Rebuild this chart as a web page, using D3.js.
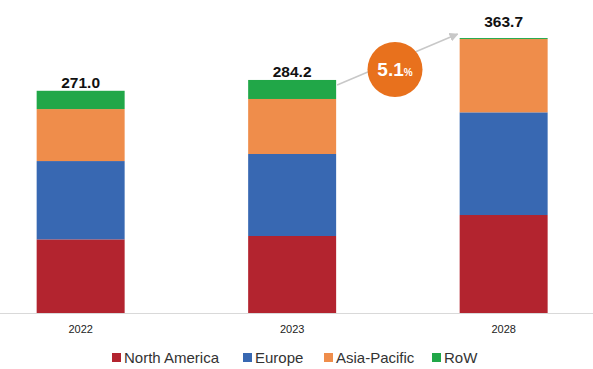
<!DOCTYPE html>
<html><head><meta charset="utf-8">
<script src="https://cdn.jsdelivr.net/npm/d3@7"></script>
<style>body{margin:0;background:#fff}svg{display:block}text{font-family:"Liberation Sans",Arial,sans-serif}</style>
</head><body><svg id="c" width="593" height="369"></svg>
<script>
const years = ["2022","2023","2028"];
const regions = ["North America","Europe","Asia-Pacific","RoW"];
const northAmerica = [89.8, 93.9, 119.5];
const europe = [95.5, 100.0, 125.2];
const asiaPacific = [63.4, 67.1, 89.4];
const row = [22.3, 23.2, 1.2];
const totalLabels = ["271.0","284.2","363.7"];
const cagrLabel = "5.1";
const colors = ["#B3242F","#3868B2","#EF8D4B","#21A748"];

const svg = d3.select("#c");
const data = years.map((y,i)=>({year:y,"North America":northAmerica[i],"Europe":europe[i],"Asia-Pacific":asiaPacific[i],"RoW":row[i]}));
const stack = d3.stack().keys(regions)(data);

const x = d3.scaleBand().domain(years).range([-25.1,609.4]).paddingInner(0.584).paddingOuter(0.292);
const y = d3.scaleLinear().domain([0,350]).range([313,26]);
const color = d3.scaleOrdinal().domain(regions).range(colors);

// axis line
svg.append("line").attr("x1",0).attr("x2",593).attr("y1",313.5).attr("y2",313.5).attr("stroke","#d9d9d9").attr("stroke-width",1);

svg.selectAll("g.layer").data(stack).join("g").attr("class","layer").attr("fill",d=>color(d.key))
  .selectAll("rect").data(d=>d).join("rect")
  .attr("x",d=>x(d.data.year)).attr("width",x.bandwidth())
  .attr("y",d=>y(d[1])).attr("height",d=>y(d[0])-y(d[1]));

// tick labels
const ax = svg.append("g").attr("transform","translate(0,313)")
  .call(d3.axisBottom(x).tickSize(0).tickPadding(12));
ax.select(".domain").remove();
ax.selectAll("text").attr("font-size","11px").attr("fill","#222").attr("font-family","Liberation Sans, Arial, sans-serif");

// totals
const tops = stack[stack.length-1];
svg.selectAll("text.tot").data(tops).join("text").attr("class","tot")
  .attr("x",d=>x(d.data.year)+x.bandwidth()/2)
  .attr("y",(d,i)=>y(d[1])-(i===2?11:3))
  .attr("text-anchor","middle").attr("font-size","15.5px").attr("font-weight","bold").attr("fill","#111")
  .text((d,i)=>totalLabels[i]);

// arrow
const defs = svg.append("defs");
defs.append("marker").attr("id","ah").attr("viewBox","0 0 10 10").attr("refX",9).attr("refY",5)
  .attr("markerWidth",6).attr("markerHeight",6).attr("orient","auto")
  .append("path").attr("d","M0,0L10,5L0,10z").attr("fill","#c8c8c8");
const x1 = x("2023")+x.bandwidth()+1, y1 = y(tops[1][1])+5;
const x2 = x("2028")-2, y2 = y(tops[2][1])-4;
svg.append("line").attr("x1",x1).attr("y1",y1).attr("x2",x2).attr("y2",y2)
  .attr("stroke","#c8c8c8").attr("stroke-width",1.5).attr("marker-end","url(#ah)");

// CAGR circle
const cx = 395, cy = 69.5;
svg.append("circle").attr("cx",cx).attr("cy",cy).attr("r",27.5).attr("fill","#E8711D");
const t = svg.append("text").attr("x",cx).attr("y",cy+6.5).attr("text-anchor","middle").attr("fill","#fff").attr("font-weight","bold");
t.append("tspan").attr("font-size","19px").text(cagrLabel);
t.append("tspan").attr("font-size","10px").text("%");

// legend
const legX = [112, 243, 324, 432];
const lg = svg.selectAll("g.leg").data(regions).join("g").attr("class","leg")
  .attr("transform",(d,i)=>`translate(${legX[i]},353)`);
lg.append("rect").attr("width",9).attr("height",9).attr("fill",d=>color(d));
lg.append("text").attr("x",12).attr("y",10).attr("font-size","15px").attr("fill","#333").text(d=>d);
</script></body></html>
